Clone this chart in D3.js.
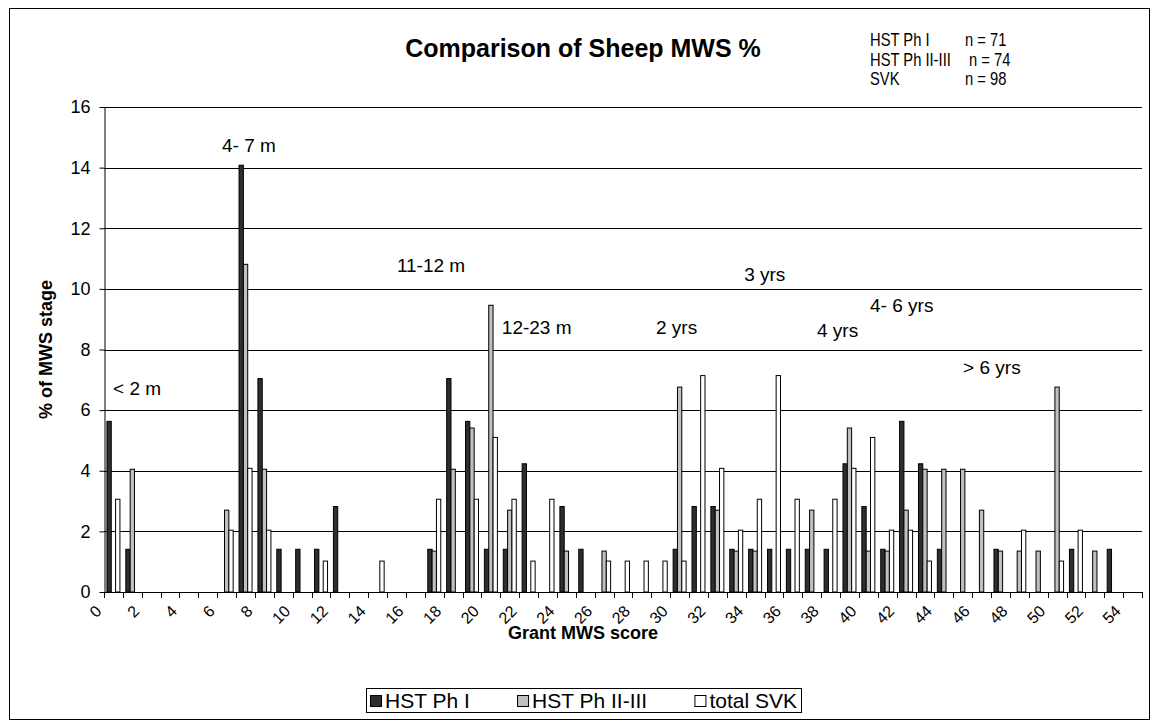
<!DOCTYPE html>
<html>
<head>
<meta charset="utf-8">
<script src="https://cdn.jsdelivr.net/npm/d3@7/dist/d3.min.js"></script>
<style>
  body { margin: 0; background: #fff; }
  svg text { font-family: "Liberation Sans", Arial, sans-serif; fill: #000; }
</style>
</head>
<body>
<div id="container"></div>
<script>
// Grant MWS score categories 0..54
const scores = [0, 1, 2, 3, 4, 5, 6, 7, 8, 9, 10, 11, 12, 13, 14, 15, 16, 17, 18, 19,
  20, 21, 22, 23, 24, 25, 26, 27, 28, 29, 30, 31, 32, 33, 34, 35, 36, 37, 38, 39,
  40, 41, 42, 43, 44, 45, 46, 47, 48, 49, 50, 51, 52, 53, 54];

// % of MWS stage per score
const hstPh1 = [5.63, 1.41, 0, 0, 0, 0, 0, 14.08, 7.04, 1.41, 1.41, 1.41, 2.82, 0, 0, 0, 0, 1.41, 7.04, 5.63,
  1.41, 1.41, 4.23, 0, 2.82, 1.41, 0, 0, 0, 0, 1.41, 2.82, 2.82, 1.41, 1.41, 1.41, 1.41, 1.41, 1.41, 4.23,
  2.82, 1.41, 5.63, 4.23, 1.41, 0, 0, 1.41, 0, 0, 0, 1.41, 0, 1.41, 0];
const hstPh23 = [0, 4.05, 0, 0, 0, 0, 2.70, 10.81, 4.05, 0, 0, 0, 0, 0, 0, 0, 0, 1.35, 4.05, 5.41,
  9.46, 2.70, 0, 0, 1.35, 0, 1.35, 0, 0, 0, 6.76, 0, 2.70, 1.35, 1.35, 0, 0, 2.70, 0, 5.41,
  1.35, 1.35, 2.70, 4.05, 4.05, 4.05, 2.70, 1.35, 1.35, 1.35, 6.76, 0, 1.35, 0, 0];
const totalSvk = [3.06, 0, 0, 0, 0, 0, 2.04, 4.08, 2.04, 0, 0, 1.02, 0, 0, 1.02, 0, 0, 3.06, 0, 3.06,
  5.10, 3.06, 1.02, 3.06, 0, 0, 1.02, 1.02, 1.02, 1.02, 1.02, 7.14, 4.08, 2.04, 3.06, 7.14, 3.06, 0, 3.06, 4.08,
  5.10, 2.04, 2.04, 1.02, 0, 0, 0, 0, 2.04, 0, 1.02, 2.04, 0, 0, 0];

const seriesNames = ["HST Ph I", "HST Ph II-III", "total SVK"];
const seriesColors = ["#2e2e2e", "#c0c0c0", "#ffffff"];
const yTicks = [0, 2, 4, 6, 8, 10, 12, 14, 16];
const xLabelScores = [0, 2, 4, 6, 8, 10, 12, 14, 16, 18, 20, 22, 24, 26, 28, 30, 32, 34, 36, 38,
  40, 42, 44, 46, 48, 50, 52, 54];

// stage notes placed at (score, %)
const stageLabels = ["< 2 m", "4- 7 m", "11-12 m", "12-23 m", "2 yrs", "3 yrs", "4 yrs", "4- 6 yrs", "> 6 yrs"];
const stageScore = [0.48, 6.25, 15.52, 21.08, 29.25, 33.92, 37.78, 40.59, 45.52];
const stageValue = [6.5, 14.5, 10.55, 8.5, 8.5, 10.25, 8.4, 9.25, 7.2];

const infoLabels = ["HST Ph I", "HST Ph II-III", "SVK"];
const infoN = ["n = 71", "n = 74", "n = 98"];

const width = 1156, height = 723;
const plot = { left: 104, right: 1142, top: 107, bottom: 592 };

const svg = d3.select("#container").append("svg")
  .attr("width", width).attr("height", height);

// chart frame
svg.append("rect")
  .attr("x", 9.5).attr("y", 8.5)
  .attr("width", 1140).attr("height", 711)
  .attr("fill", "#fff").attr("stroke", "#000").attr("stroke-width", 1);

const x = d3.scaleBand().domain(scores).range([plot.left, plot.right]).padding(0);
const xs = d3.scaleBand().domain(seriesNames).range([0, x.bandwidth()])
  .paddingInner(0).paddingOuter(0.68);
const xLin = d3.scaleLinear().domain([0, scores.length]).range([plot.left, plot.right]);
const y = d3.scaleLinear().domain([0, 16]).range([plot.bottom, plot.top]);
const color = d3.scaleOrdinal().domain(seriesNames).range(seriesColors);

// gridlines
svg.append("g")
  .selectAll("line")
  .data(yTicks.filter((d) => d > 0))
  .enter()
  .append("line")
  .attr("x1", plot.left).attr("x2", plot.right)
  .attr("y1", (d) => Math.round(y(d)) + 0.5)
  .attr("y2", (d) => Math.round(y(d)) + 0.5)
  .attr("stroke", "#000").attr("stroke-width", 1);

// bars
const rows = scores.map((s, i) => ({
  score: s,
  values: [hstPh1[i], hstPh23[i], totalSvk[i]].map((v, j) => ({ name: seriesNames[j], value: v })),
}));

svg.append("g")
  .selectAll("g")
  .data(rows)
  .enter()
  .append("g")
  .attr("transform", (d) => `translate(${x(d.score)},0)`)
  .selectAll("rect")
  .data((d) => d.values.filter((v) => v.value > 0))
  .enter()
  .append("rect")
  .attr("x", (d) => xs(d.name))
  .attr("width", xs.bandwidth())
  .attr("y", (d) => y(d.value))
  .attr("height", (d) => y(0) - y(d.value))
  .attr("fill", (d) => color(d.name))
  .attr("stroke", "#000")
  .attr("stroke-width", 1);

// y axis
const yAxis = svg.append("g")
  .attr("transform", `translate(${plot.left + 0.5},0)`)
  .call(d3.axisLeft(y).tickValues(yTicks).tickSize(5).tickPadding(9).tickSizeOuter(0));
yAxis.select(".domain").attr("stroke", "#000");
yAxis.selectAll(".tick line").attr("stroke", "#000");
yAxis.selectAll(".tick text").attr("font-size", "18px").attr("font-family", null);

// x axis line and ticks at category boundaries
const xAxis = svg.append("g");
xAxis.append("line")
  .attr("x1", plot.left).attr("x2", plot.right)
  .attr("y1", Math.round(y(0)) + 0.5).attr("y2", Math.round(y(0)) + 0.5)
  .attr("stroke", "#000");
xAxis.selectAll("line.tick")
  .data(scores.concat([scores.length]))
  .enter()
  .append("line")
  .attr("class", "tick")
  .attr("x1", (d) => Math.round(xLin(d)) + 0.5)
  .attr("x2", (d) => Math.round(xLin(d)) + 0.5)
  .attr("y1", Math.round(y(0)))
  .attr("y2", Math.round(y(0)) + 6)
  .attr("stroke", "#000");
xAxis.selectAll("text")
  .data(xLabelScores)
  .enter()
  .append("text")
  .attr("transform", (d) => `translate(${x(d) - 9.5},${y(0) + 12}) rotate(-45)`)
  .attr("text-anchor", "end")
  .attr("dy", "0.72em")
  .attr("font-size", "16px")
  .text((d) => d);

// stage notes
svg.append("g")
  .selectAll("text")
  .data(stageLabels)
  .enter()
  .append("text")
  .attr("x", (d, i) => xLin(stageScore[i]))
  .attr("y", (d, i) => y(stageValue[i]))
  .attr("font-size", "19px")
  .text((d) => d);

// titles
svg.append("text")
  .attr("x", 583).attr("y", 57)
  .attr("text-anchor", "middle")
  .attr("font-size", "25px").attr("font-weight", "bold")
  .text("Comparison of Sheep MWS %");

svg.append("text")
  .attr("x", 583).attr("y", 639)
  .attr("text-anchor", "middle")
  .attr("font-size", "18px").attr("font-weight", "bold")
  .text("Grant MWS score");

svg.append("text")
  .attr("transform", `translate(52,${(plot.top + plot.bottom) / 2}) rotate(-90)`)
  .attr("text-anchor", "middle")
  .attr("font-size", "18px").attr("font-weight", "bold")
  .text("% of MWS stage");

// sample sizes (narrow face, as in the source)
const info = svg.append("g").attr("font-size", "18px");
info.selectAll("text.lab")
  .data(infoLabels)
  .enter()
  .append("text")
  .attr("class", "lab")
  .attr("transform", (d, i) => `translate(870,${46 + i * 19.5}) scale(0.82,1)`)
  .text((d) => d);
info.selectAll("text.n")
  .data(infoN)
  .enter()
  .append("text")
  .attr("class", "n")
  .attr("transform", (d, i) => `translate(${i === 1 ? 969 : 965},${46 + i * 19.5}) scale(0.82,1)`)
  .text((d) => d);

// legend
const legend = svg.append("g").attr("transform", "translate(366,688)");
const legendWidth = 435;
legend.append("rect")
  .attr("x", 0.5).attr("y", 0.5)
  .attr("width", legendWidth).attr("height", 24)
  .attr("fill", "#fff").attr("stroke", "#000");
const items = seriesNames.map((name, i) => {
  const g = legend.append("g");
  g.append("rect")
    .attr("x", 0.5).attr("y", 7.5)
    .attr("width", 11).attr("height", 11)
    .attr("fill", seriesColors[i]).attr("stroke", "#000");
  const t = g.append("text")
    .attr("x", 15).attr("y", 20)
    .attr("font-size", "21px")
    .text(name);
  return { g, w: 15 + t.node().getComputedTextLength() };
});
const used = d3.sum(items, (d) => d.w);
const gap = (legendWidth - 8 - used) / (items.length - 1);
let lx = 4;
items.forEach((it) => {
  it.g.attr("transform", `translate(${lx},0)`);
  lx += it.w + gap;
});
</script>
</body>
</html>
